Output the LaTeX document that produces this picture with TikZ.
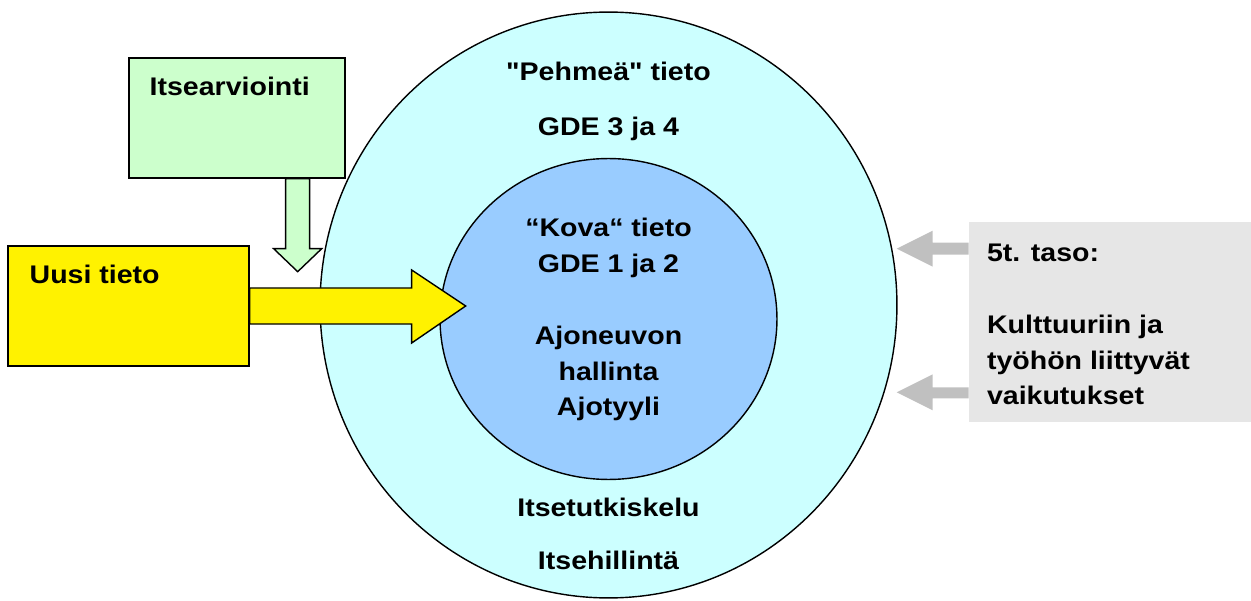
\documentclass[tikz,border=0pt]{standalone}
\usepackage{fontspec}
\setmainfont[FakeStretch=1.12, Ligatures=TeXOff]{Liberation Sans}
\usetikzlibrary{shapes.geometric, positioning, calc}

\definecolor{softcyan}{RGB}{204,255,255}
\definecolor{hardblue}{RGB}{153,204,255}
\definecolor{palegreen}{RGB}{204,255,204}
\definecolor{levelgray}{RGB}{230,230,230}
\definecolor{arrowgray}{RGB}{192,192,192}

\begin{document}
\begin{tikzpicture}[x=0.02cm, y=-0.02cm,
    txt/.style={font=\bfseries\fontsize{14.5}{20.4}\selectfont, inner sep=0pt},
    ring/.style={ellipse, draw, line width=0.8pt, inner sep=0pt},
    box/.style={rectangle, draw, line width=0.8pt, inner sep=0pt}]
    \useasboundingbox (0,0) rectangle (1251,601);

    % Circles
    \node (outer) [ring, fill=softcyan, minimum width=11.54cm, minimum height=11.72cm] at (608.5,305) {};
    \node (inner) [ring, fill=hardblue, minimum width=6.74cm, minimum height=6.42cm] at ($(outer.center)+(0,14)$) {};

    % Boxes
    \node (selfbox) [box, fill=palegreen, minimum width=4.32cm, minimum height=2.4cm] at (237,118) {};
    \node (newbox) [box, fill=yellow, minimum width=4.82cm, minimum height=2.4cm] at (128.5,306) {};
    \node (levelbox) [rectangle, fill=levelgray, minimum width=5.64cm, minimum height=4cm] at (1110,322) {};

    % Texts in the circles
    \node (softA) [txt, anchor=base] at ($(outer.north)+(0,69)$) {"Pehmeä" tieto};
    \node (softB) [txt, anchor=base] at ($(outer.north)+(0,124)$) {GDE 3 ja 4};
    \node (hard) [txt, align=center, anchor=north] at ($(inner.north)+(0,60)$) {“Kova“ tieto\\GDE 1 ja 2\\[20.4pt]Ajoneuvon\\hallinta\\Ajotyyli};
    \node (selfA) [txt, anchor=base] at ($(outer.south)+(0,-82)$) {Itsetutkiskelu};
    \node (selfB) [txt, anchor=base] at ($(outer.south)+(0,-29)$) {Itsehillintä};

    % Texts in the boxes
    \node (selflabel) [txt, anchor=west] at ($(selfbox.north west)+(21,29)$) {Itsearviointi};
    \node (newlabel) [txt, anchor=west] at ($(newbox.north west)+(22,29)$) {Uusi tieto};
    \node (levellabel) [txt, align=left, anchor=north west] at ($(levelbox.north west)+(18,22)$) {5t. taso:\\[20.4pt]Kulttuuriin ja\\työhön liittyvät\\vaikutukset};

    % Block arrows
    \draw[fill=palegreen, line width=0.8pt] ($(selfbox.south east)+(-48,0)$) ++(-12,0) -- ++(0,70) -- ++(-12,0) -- ++(24,23) -- ++(24,-23) -- ++(-12,0) -- ++(0,-70) -- cycle;
    \draw[fill=yellow, line width=0.8pt] (newbox.east) ++(0,-18) -- ++(162,0) -- ++(0,-18) -- ++(54,36) -- ++(-54,37) -- ++(0,-19) -- ++(-162,0) -- cycle;
    \fill[arrowgray] ($(levelbox.north west)+(0,21)$) -- ++(-36,0) -- ++(0,-12) -- ++(-36,18) -- ++(36,18) -- ++(0,-12) -- ++(36,0) -- cycle;
    \fill[arrowgray] ($(levelbox.south west)+(0,-35)$) -- ++(-36,0) -- ++(0,-13) -- ++(-36,18) -- ++(36,18) -- ++(0,-12) -- ++(36,0) -- cycle;
\end{tikzpicture}
\end{document}
